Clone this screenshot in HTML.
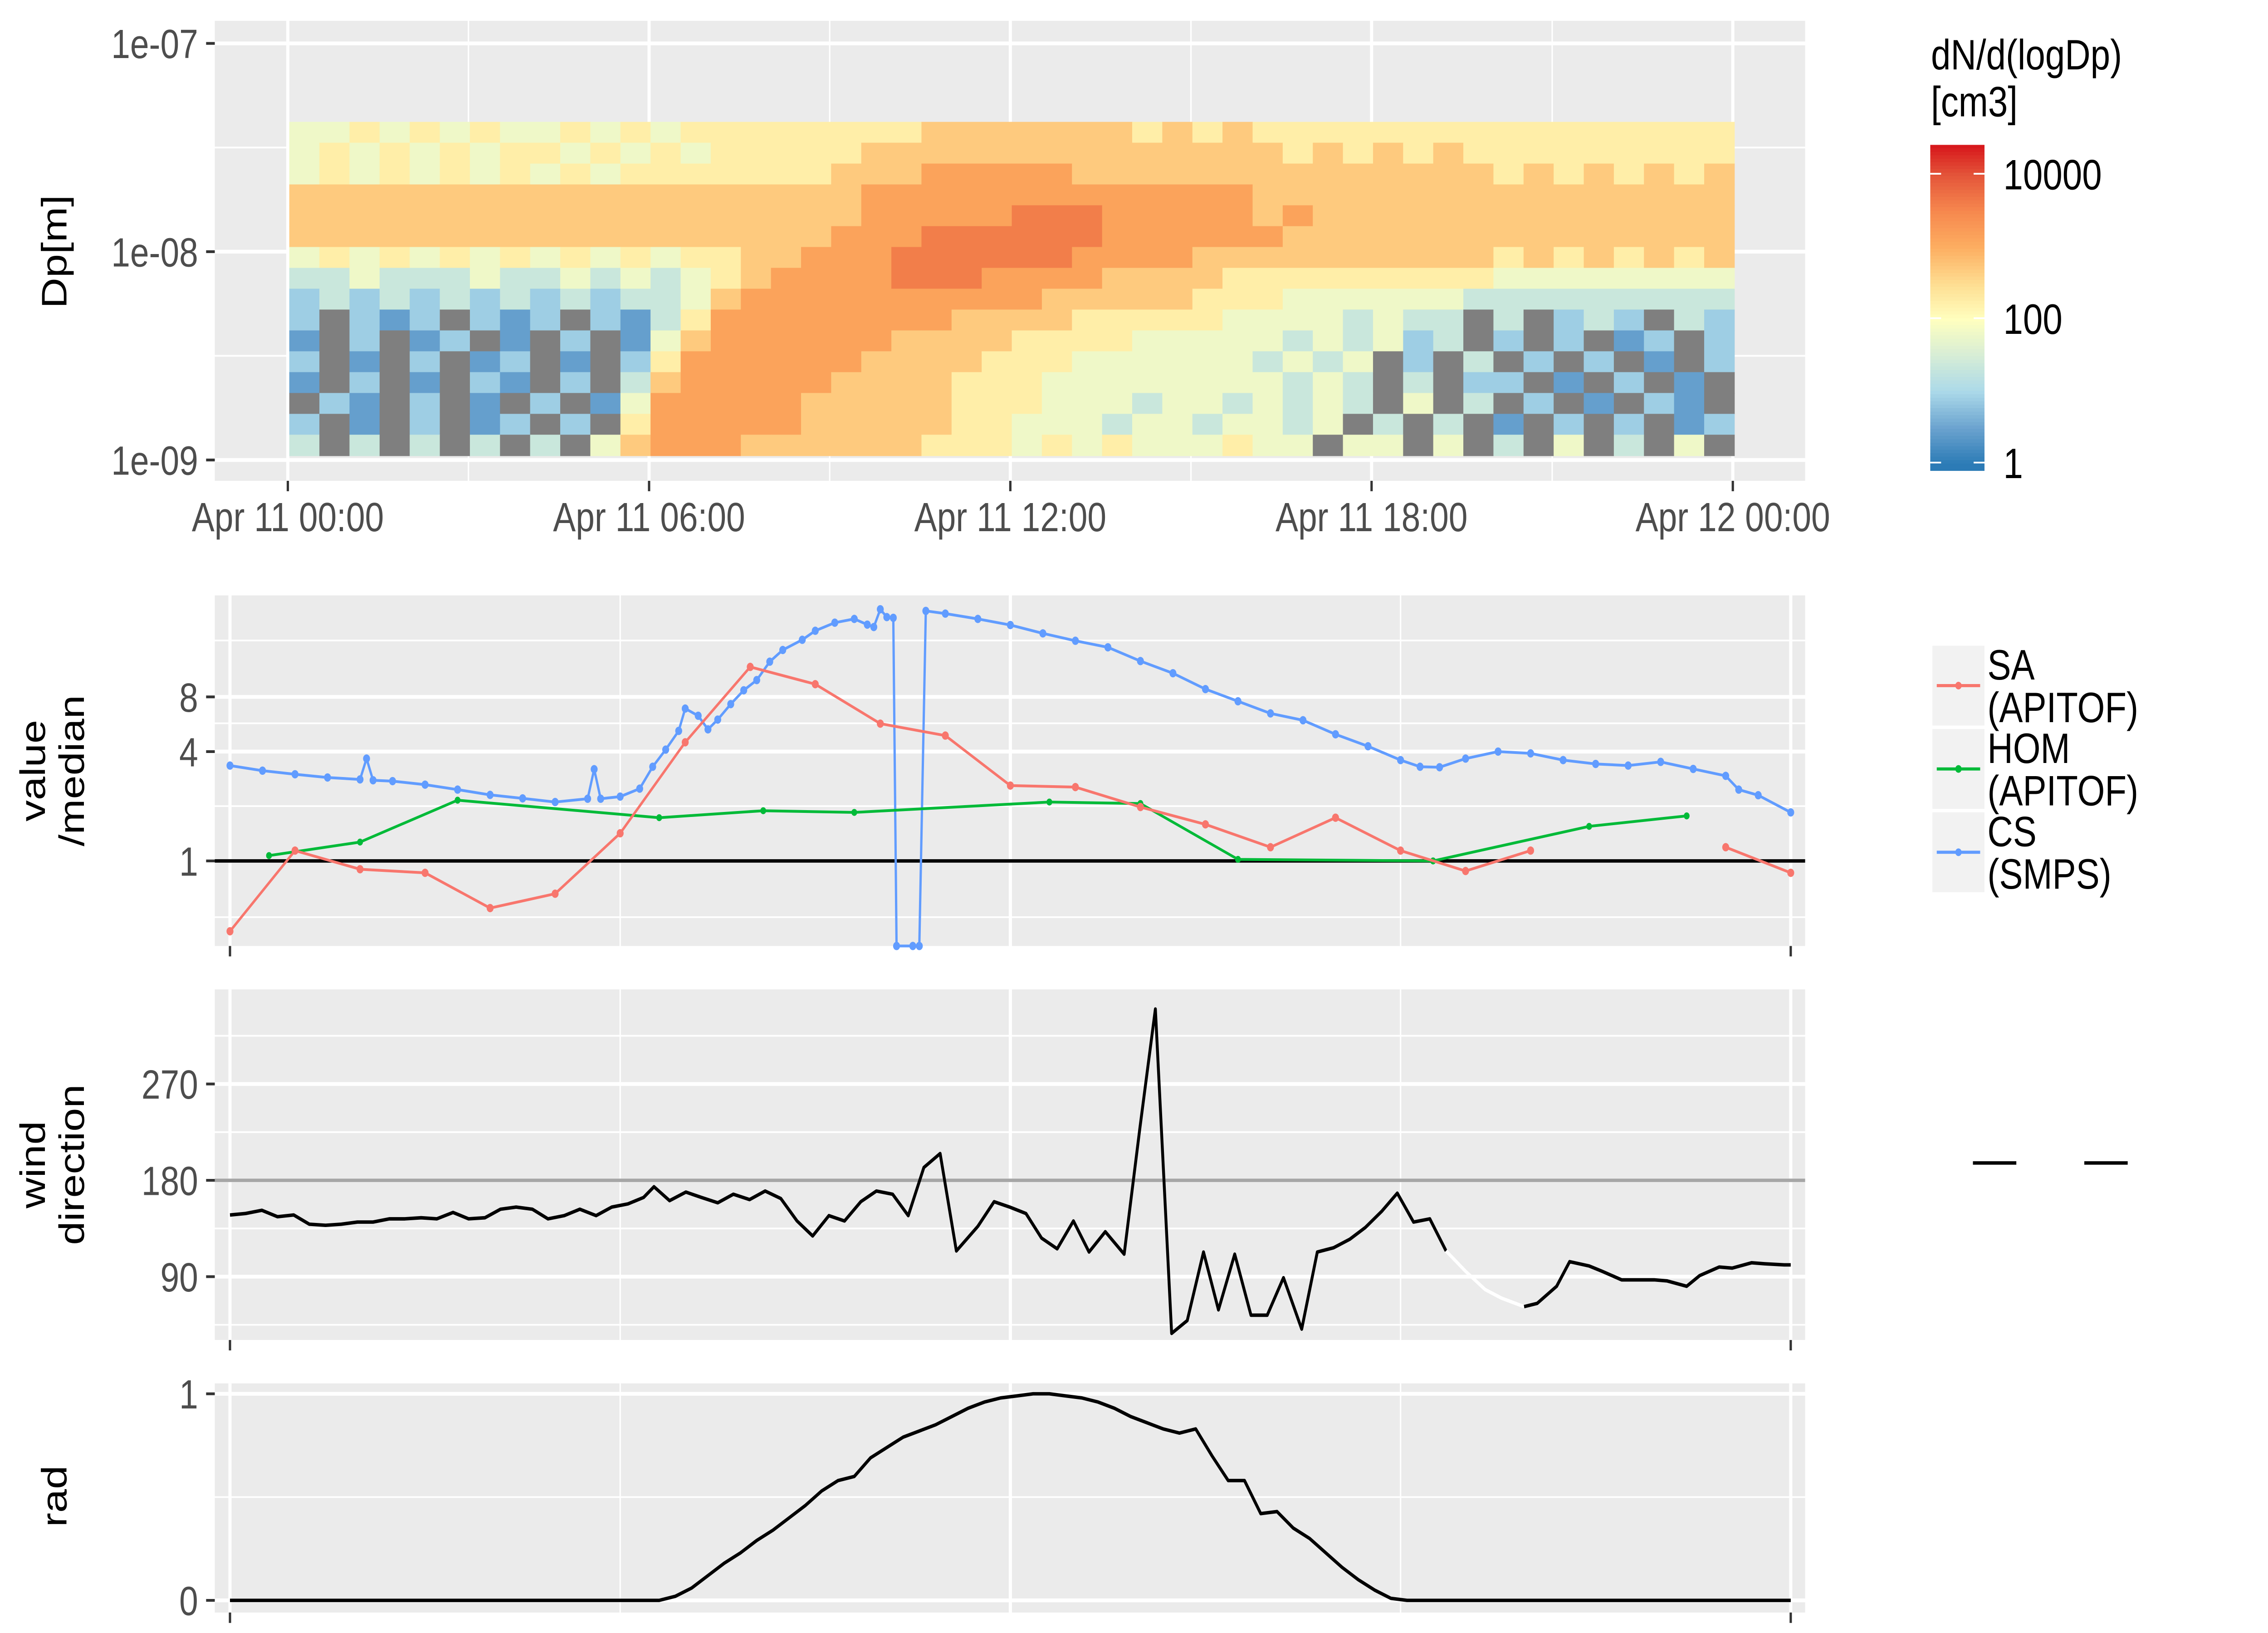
<!DOCTYPE html>
<html><head><meta charset="utf-8"><title>NPF event chart</title>
<style>
html,body{margin:0;padding:0;background:#fff;overflow:hidden;}
svg{display:block;position:absolute;left:0;top:0;width:100vw;height:100vh;font-family:"Liberation Sans",Arial,sans-serif;}
</style></head>
<body>
<svg id="chart" xmlns="http://www.w3.org/2000/svg" viewBox="0 0 1568 940.8" preserveAspectRatio="none">
<rect x="0" y="0" width="1568" height="941" fill="#fff"/>
<g id="p1"></g>
<g id="p2"></g>
<g id="p3"></g>
<g id="p4"></g>
<g id="leg"></g>
</svg>
<script>
// ---------- data ----------
const heatRows = [
"44545454 45454555 55555666 66665656 55555555 55555555",
"45454545 54545455 55566666 66666666 65656565 55555555",
"45454545 45455555 55666777 77666666 66666666 56565656",
"66666666 66666666 66677777 77777777 66666666 66666666",
"66666666 66666666 66677777 88877777 67666666 66666666",
"66666666 66666666 66777888 88877777 76666666 66666666",
"45454545 45454556 67778888 88777766 66666666 56565656",
"33433343 34343456 77778887 77766665 55555555 44444444",
"23232323 23233467 77777777 76666655 54444443 33333333",
"2g212g21 2g213577 77777766 66555554 4443433g 3g232g32",
"1g2g12g1 g2g14677 77776666 55554444 4343423g 2g2g12g2",
"2g1g2g12 g1g25777 77766665 55444444 3434g2g3 g2g2g1g2",
"1g2g1g21 g2g36777 77666655 54444444 4343g3g2 2g1g2g1g",
"g21g2g1g 2g147777 76666655 54443443 4343g4g3 g2g1g21g",
"2g1g2g12 g2g57777 76666655 44434434 434g3g3g 1g2g2g12",
"3g3g3g3g 3g467776 66666555 45454445 44g44g4g 3g4g3g4g"
];
const dpTop = 4.2e-8, dpBottom = 1.05e-9;
const timeTicks1 = ["Apr 11 00:00","Apr 11 06:00","Apr 11 12:00","Apr 11 18:00","Apr 12 00:00"];
const dpTicks = [1e-7, 1e-8, 1e-9];
const dpTickLabels = ["1e-07","1e-08","1e-09"];

const saHours = [0,1,2,3,4,5,6,7,8,9,10,11,12,13,14,15,16,17,18,19,20,null,23,24];
const saValues = [0.41,1.14,0.9,0.86,0.55,0.66,1.42,4.5,11.7,9.4,5.7,4.9,2.6,2.55,1.98,1.59,1.19,1.73,1.14,0.88,1.14,null,1.19,0.86];
const homHours = [0.6,2,3.5,6.6,8.2,9.6,12.6,14.0,15.5,18.5,20.9,22.4];
const homValues = [1.07,1.27,2.16,1.73,1.89,1.85,2.11,2.07,1.02,1.0,1.55,1.77];
const csHours = [0,0.5,1,1.5,2,2.1,2.2,2.5,3,3.5,4,4.5,5,5.5,5.6,5.7,6,6.3,6.5,6.7,6.9,7.0,7.2,7.35,7.5,7.7,7.9,8.1,8.3,8.5,8.8,9.0,9.3,9.6,9.8,9.9,10.0,10.1,10.2,10.25,10.5,10.6,10.7,11,11.5,12,12.5,13,13.5,14,14.5,15,15.5,16,16.5,17,17.5,18,18.3,18.6,19,19.5,20,20.5,21,21.5,22,22.5,23,23.2,23.5,24];
const csValues = [3.35,3.14,3.0,2.88,2.81,3.66,2.78,2.75,2.63,2.47,2.31,2.21,2.11,2.2,3.2,2.2,2.26,2.5,3.3,4.1,5.2,6.9,6.3,5.3,6.0,7.3,8.7,9.9,12.5,14.5,16.5,18.5,20.5,21.5,20.0,19.4,24.3,22.0,21.8,0.34,0.34,0.34,23.8,23.0,21.5,19.9,17.9,16.3,15.0,12.6,10.8,8.83,7.57,6.49,5.95,4.98,4.28,3.59,3.3,3.28,3.66,4.0,3.91,3.59,3.42,3.35,3.51,3.21,2.94,2.47,2.3,1.85];
const medianRef = [1];
const relTicks = [1,4,8];

const windHours = [0,0.24,0.49,0.73,0.98,1.22,1.47,1.71,1.96,2.2,2.45,2.69,2.94,3.18,3.43,3.67,3.92,4.16,4.4,4.65,4.89,5.14,5.38,5.63,5.87,6.12,6.36,6.52,6.76,7.01,7.25,7.5,7.74,7.99,8.23,8.47,8.72,8.96,9.21,9.45,9.7,9.94,10.19,10.43,10.67,10.92,11.17,11.5,11.75,11.99,12.24,12.48,12.72,12.97,13.21,13.46,13.75,13.99,14.23,14.48,14.72,14.97,15.2,15.45,15.7,15.95,16.2,16.48,16.72,16.97,17.22,17.46,17.71,17.95,18.2,18.45,18.7];
const windValues = [147.6,149,152,146,147.6,139,138,139,141,141,144,144,145,144,150,144,145,153,155,153,144,147,153,147,155,158,164,174,161,169,164,159,167,162,170,163,142,128,147,142,160,170,167,147,192,205,114,137,160,155,149,126,116,142,113,132,111,228,340,37,49,113,59,111,54,54,89,41,113,117,125,136,151,168,141,144,114];
const windHours2 = [18.7,19.0,19.3,19.55,19.9];
const windValues2 = [114,95,78,70,62];
const windHours3 = [19.9,20.1,20.4,20.6,20.9,21.1,21.4,21.6,21.9,22.1,22.4,22.6,22.9,23.1,23.4,23.6,23.9,24];
const windValues3 = [62,65,81,104,100,95,87,87,87,86,81,91,99,98,103,102,101,101];
const windTicks = [90,180,270];

const radHours = [0,6.6,6.85,7.1,7.35,7.6,7.85,8.1,8.35,8.6,8.85,9.1,9.35,9.6,9.85,10.1,10.35,10.6,10.85,11.1,11.35,11.6,11.85,12.1,12.35,12.6,12.85,13.1,13.35,13.6,13.85,14.1,14.35,14.6,14.85,15.1,15.35,15.6,15.85,16.1,16.35,16.6,16.85,17.1,17.35,17.6,17.85,18.1,18.35,18.6,24];
const radValues = [0,0,0.02,0.06,0.12,0.18,0.23,0.29,0.34,0.4,0.46,0.53,0.58,0.6,0.69,0.74,0.79,0.82,0.85,0.89,0.93,0.96,0.98,0.99,1.0,1.0,0.99,0.98,0.96,0.93,0.89,0.86,0.83,0.81,0.83,0.7,0.58,0.58,0.42,0.43,0.35,0.3,0.23,0.16,0.1,0.05,0.01,0,0,0,0];
const radTicks = [0,1];

// ---------- sizing to the actual frame ----------
const svgRoot = document.getElementById("chart");
function fitFrame(){
  const w = window.innerWidth || document.documentElement.clientWidth;
  const h = window.innerHeight || document.documentElement.clientHeight;
  svgRoot.style.width = w + "px";
  svgRoot.style.height = h + "px";
}
fitFrame();
window.addEventListener("resize", fitFrame);

// ---------- helpers ----------
const NS = "http://www.w3.org/2000/svg";
function el(parent, tag, attrs){
  const e = document.createElementNS(NS, tag);
  for (const k in attrs) e.setAttribute(k, attrs[k]);
  parent.appendChild(e);
  return e;
}
const FONT_TICK = 23.5, FONT_TITLE = 24.5;
const stops = [[0,[44,123,182]],[0.5,[107,163,207]],[1,[171,217,233]],[1.5,[214,237,214]],[2,[255,255,191]],[2.5,[254,221,145]],[3,[253,174,97]],[3.5,[246,136,78]],[4,[228,85,58]],[4.4,[215,25,28]]];
function colorFor(lg){
  if (lg <= stops[0][0]) return "rgb("+stops[0][1]+")";
  for (let i=1;i<stops.length;i++){
    if (lg <= stops[i][0]){
      const a=stops[i-1], b=stops[i], t=(lg-a[0])/(b[0]-a[0]);
      const c=a[1].map((v,j)=>Math.round(v+(b[1][j]-v)*t));
      return "rgb("+c.join(",")+")";
    }
  }
  return "rgb("+stops[stops.length-1][1]+")";
}
function panelBg(g, x0,y0,x1,y1){
  const r = el(g,"rect",{x:x0,y:y0,width:x1-x0,height:y1-y0,fill:"#ebebeb"});
  
  
}
function hline(g,x0,x1,y,col,w,name){
  const l = el(g,"line",{x1:x0,x2:x1,y1:y,y2:y,stroke:col,"stroke-width":w});
  
  
}
function vline(g,x,y0,y1,col,w,name){
  const l = el(g,"line",{x1:x,x2:x,y1:y0,y2:y1,stroke:col,"stroke-width":w});
  
  
}
function text(g,x,y,str,opts){
  const t = el(g,"text",Object.assign({x:x,y:y,"font-size":FONT_TICK,fill:"#4d4d4d"},opts||{}));
  t.textContent = str;
  return t;
}

// ---------- panel 1: heatmap ----------
const p1 = document.getElementById("p1");
const P1 = {x0:148.5,x1:1248,y0:12,y1:277};
const xs1 = h => 199 + h*41.625;
const ys1 = dp => 145 - (Math.log10(dp)+8)*120;
panelBg(p1,P1.x0,P1.y0,P1.x1,P1.y1);
[85,205].forEach(y=>hline(p1,P1.x0,P1.x1,y,"#fff",1,"minor-gridline-y"));
[3,9,15,21].forEach(h=>vline(p1,xs1(h),P1.y0,P1.y1,"#fff",1,"minor-gridline-x"));
dpTicks.forEach(d=>hline(p1,P1.x0,P1.x1,ys1(d),"#fff",2.2,"major-gridline-y"));
[0,6,12,18,24].forEach(h=>vline(p1,xs1(h),P1.y0,P1.y1,"#fff",2.2,"major-gridline-x"));
{
  const rows = heatRows.map(r=>r.replace(/ /g,""));
  const nR = rows.length, nC = rows[0].length;
  const lTop = Math.log10(dpTop), lBot = Math.log10(dpBottom);
  for (let r=0;r<nR;r++){
    const yTop = ys1(Math.pow(10, lTop + (lBot-lTop)*r/nR));
    const yBot = ys1(Math.pow(10, lTop + (lBot-lTop)*(r+1)/nR));
    for (let c=0;c<nC;c++){
      const ch = rows[r][c];
      const xa = xs1(24*c/nC)+1, xb = xs1(24*(c+1)/nC)+1;
      const fill = ch==="g" ? "#7f7f7f" : colorFor(parseInt(ch,10)*0.45);
      const cell = el(p1,"rect",{x:xa,y:yTop,width:xb-xa+0.3,height:yBot-yTop+0.3,fill:fill});
      
      
    }
  }
}
dpTicks.forEach((d,i)=>{
  const y=ys1(d);
  el(p1,"line",{x1:142.5,x2:148.5,y1:y,y2:y,stroke:"#333","stroke-width":1.6});
  const t=text(p1,137,y+8.5,dpTickLabels[i],{"text-anchor":"end"});
  
  
});
timeTicks1.forEach((s,i)=>{
  const x=xs1(i*6);
  el(p1,"line",{x1:x,x2:x,y1:277,y2:283,stroke:"#333","stroke-width":1.6});
  const t=text(p1,x,306,s,{"text-anchor":"middle"});
  
  
});
{
  const t=text(p1,0,0,"Dp[m]",{fill:"#000","font-size":FONT_TITLE,"text-anchor":"middle",transform:"translate(46,145) rotate(-90)"});
  
  
}

// ---------- panels 2-4 common x ----------
const xs = h => 159 + h*44.96;
const PX0 = 148.5, PX1 = 1248;
function xGrid(g,y0,y1){
  [6,18].forEach(h=>vline(g,xs(h),y0,y1,"#fff",1,"minor-gridline-x"));
  [0,12,24].forEach(h=>vline(g,xs(h),y0,y1,"#fff",2.2,"major-gridline-x"));
  [0,24].forEach(h=>el(g,"line",{x1:xs(h),x2:xs(h),y1:y1,y2:y1+6,stroke:"#333","stroke-width":1.6}));
}
function yTick(g,y,label){
  el(g,"line",{x1:142.5,x2:148.5,y1:y,y2:y,stroke:"#333","stroke-width":1.6});
  const t=text(g,137,y+8.5,label,{"text-anchor":"end"});
  
  
}
function title2(g,lines,cy){
  lines.forEach((s,i)=>{
    const x = lines.length===1 ? 46 : 31 + i*27;
    const t=text(g,0,0,s,{fill:"#000","font-size":FONT_TITLE,"text-anchor":"middle",transform:"translate("+x+","+cy+") rotate(-90)"});
    
    
  });
}
function polyline(g,pts,col,w,name){
  const p = el(g,"polyline",{points:pts.map(p=>p[0].toFixed(2)+","+p[1].toFixed(2)).join(" "),fill:"none",stroke:col,"stroke-width":w,"stroke-linejoin":"round"});
  
  
  return p;
}

// ---------- panel 2 ----------
const p2 = document.getElementById("p2");
const P2 = {y0:343,y1:545};
const ys2 = v => 496 - 31.5*Math.log2(v);
panelBg(p2,PX0,P2.y0,PX1,P2.y1);
[369,416.7,464.4,528.4].forEach(y=>hline(p2,PX0,PX1,y,"#fff",1,"minor-gridline-y"));
relTicks.forEach(v=>hline(p2,PX0,PX1,ys2(v),"#fff",2.2,"major-gridline-y"));
xGrid(p2,P2.y0,P2.y1);
hline(p2,PX0,PX1,ys2(medianRef[0]),"#000",2,"median-reference-line");
function series(g,hours,vals,col,name,r){
  let seg=[];
  const segs=[];
  hours.forEach((h,i)=>{
    if (h===null || vals[i]===null){ if(seg.length) segs.push(seg); seg=[]; return; }
    seg.push([xs(h), Math.min(P2.y1, ys2(vals[i]))]);
  });
  if (seg.length) segs.push(seg);
  segs.forEach(s=>polyline(g,s,col,1.6,name+"-line"));
  segs.forEach(s=>s.forEach(p=>{
    const c=el(g,"circle",{cx:p[0],cy:p[1],r:r,fill:col});
    
    
  }));
}
series(p2,csHours,csValues,"#619cff","cs",2.4);
series(p2,homHours,homValues,"#00ba38","hom",2.0);
series(p2,saHours,saValues,"#f8766d","sa",2.4);
relTicks.forEach(v=>yTick(p2,ys2(v),String(v)));
title2(p2,["value","/median"],444);

// ---------- panel 3 ----------
const p3 = document.getElementById("p3");
const P3 = {y0:570,y1:772};
const ys3 = v => 680 - (v-180)*0.6167;
panelBg(p3,PX0,P3.y0,PX1,P3.y1);
[45,135,225,315].forEach(v=>hline(p3,PX0,PX1,ys3(v),"#fff",1,"minor-gridline-y"));
windTicks.forEach(v=>hline(p3,PX0,PX1,ys3(v),"#fff",2.2,"major-gridline-y"));
xGrid(p3,P3.y0,P3.y1);
hline(p3,PX0,PX1,ys3(180),"#a6a6a6",2,"reference-180-line");
polyline(p3,windHours.map((h,i)=>[xs(h),ys3(windValues[i])]),"#000",2,"wind-direction-line");
polyline(p3,windHours2.map((h,i)=>[xs(h),ys3(windValues2[i])]),"#fff",2,"wind-direction-line-missing");
polyline(p3,windHours3.map((h,i)=>[xs(h),ys3(windValues3[i])]),"#000",2,"wind-direction-line-late");
windTicks.forEach(v=>yTick(p3,ys3(v),String(v)));
title2(p3,["wind","direction"],671);

// ---------- panel 4 ----------
const p4 = document.getElementById("p4");
const P4 = {y0:797,y1:929};
const ys4 = v => 922 - v*119;
panelBg(p4,PX0,P4.y0,PX1,P4.y1);
hline(p4,PX0,PX1,ys4(0.5),"#fff",1,"minor-gridline-y");
radTicks.forEach(v=>hline(p4,PX0,PX1,ys4(v),"#fff",2.2,"major-gridline-y"));
xGrid(p4,P4.y0,P4.y1);
polyline(p4,radHours.map((h,i)=>[xs(h),ys4(radValues[i])]),"#000",2,"radiation-line");
radTicks.forEach(v=>yTick(p4,ys4(v),String(v)));
title2(p4,["rad"],862);

// ---------- legends ----------
const leg = document.getElementById("leg");
{
  const t1=text(leg,1335,40,"dN/d(logDp)",{fill:"#000","font-size":FONT_TITLE});
  
  
  const t2=text(leg,1335,67,"[cm3]",{fill:"#000","font-size":FONT_TITLE});
  
  
  const ly = lg => 266.5 - lg*41.6;
  for (let i=0;i<94;i++){
    const lgA = 4.4 - i*(4.4+0.11)/94;
    const y = ly(lgA);
    el(leg,"rect",{x:1334.5,y:y,width:37.5,height:2.2,fill:colorFor(lgA)});
  }
  const cb=el(leg,"rect",{x:1334.5,y:83,width:37.5,height:188,fill:"none"});
  
  
  [[4,"10000"],[2,"100"],[0,"1"]].forEach(([lg,s])=>{
    const y=ly(lg);
    el(leg,"line",{x1:1334.5,x2:1342,y1:y,y2:y,stroke:"#fff","stroke-width":1});
    el(leg,"line",{x1:1364.5,x2:1372,y1:y,y2:y,stroke:"#fff","stroke-width":1});
    const t=text(leg,1385,y+9,s,{fill:"#000","font-size":FONT_TITLE});
    
    
  });
}
{
  const entries=[["SA","(APITOF)","#f8766d"],["HOM","(APITOF)","#00ba38"],["CS","(SMPS)","#619cff"]];
  entries.forEach((e,i)=>{
    const y0=372+i*48;
    const g=el(leg,"g",{});
    
    
    el(g,"rect",{x:1336,y:y0,width:36,height:46,fill:"#f2f2f2"});
    el(g,"line",{x1:1339,x2:1369,y1:y0+23,y2:y0+23,stroke:e[2],"stroke-width":1.8});
    el(g,"circle",{cx:1354,cy:y0+23,r:2.2,fill:e[2]});
    text(g,1374,y0+19.5,e[0],{fill:"#000","font-size":FONT_TITLE});
    text(g,1374,y0+44,e[1],{fill:"#000","font-size":FONT_TITLE});
  });
  const k1=el(leg,"line",{x1:1364,x2:1394,y1:670,y2:670,stroke:"#000","stroke-width":2});
  
  
  const k2=el(leg,"line",{x1:1441,x2:1471,y1:670,y2:670,stroke:"#000","stroke-width":2});
  
  
}
</script>
</body></html>
